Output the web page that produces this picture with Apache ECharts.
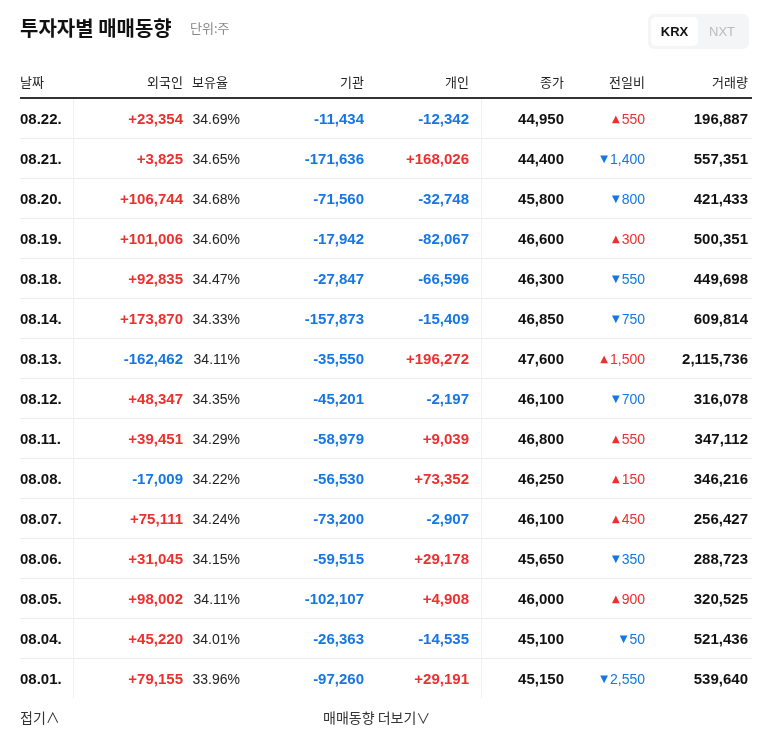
<!DOCTYPE html>
<html><head><meta charset="utf-8">
<script src="https://cdn.jsdelivr.net/npm/echarts@6/dist/echarts.min.js"></script>
<style>html,body{margin:0;padding:0;background:#fff}#c{width:768px;height:749px}</style>
</head><body><div id="c"></div>
<script>
const dates = ['08.22.','08.21.','08.20.','08.19.','08.18.','08.14.','08.13.','08.12.','08.11.','08.08.','08.07.','08.06.','08.05.','08.04.','08.01.'];
const foreign = [23354,3825,106744,101006,92835,173870,-162462,48347,39451,-17009,75111,31045,98002,45220,79155];
const ratio = [34.69,34.65,34.68,34.60,34.47,34.33,34.11,34.35,34.29,34.22,34.24,34.15,34.11,34.01,33.96];
const inst = [-11434,-171636,-71560,-17942,-27847,-157873,-35550,-45201,-58979,-56530,-73200,-59515,-102107,-26363,-97260];
const indiv = [-12342,168026,-32748,-82067,-66596,-15409,196272,-2197,9039,73352,-2907,29178,4908,-14535,29191];
const closePrice = [44950,44400,45800,46600,46300,46850,47600,46100,46800,46250,46100,45650,46000,45100,45150];
const change = [550,-1400,-800,300,-550,-750,1500,-700,550,150,450,-350,900,-50,-2550];
const volume = [196887,557351,421433,500351,449698,609814,2115736,316078,347112,346216,256427,288723,320525,521436,539640];
const headers = ['날짜','외국인','보유율','기관','개인','종가','전일비','거래량'];

// layout anchors (px) for each column
const colX = [20,183,240,364,469,564,645,748];
const colAlign = ['left','right','right','right','right','right','right','right'];
const RED='#ee2f2f', BLUE='#1577e6', DARK='#111';
const FONT='"Liberation Sans", Arial, "Noto Sans CJK KR", sans-serif';
const fmt = v => Math.abs(v).toLocaleString('en-US');
const signed = v => (v>0?'+':'-')+fmt(v);

const cols = [
  {d:dates, f:v=>'{d|'+v+'}'},
  {d:foreign, f:v=>(v>0?'{r|':'{b|')+signed(v)+'}'},
  {d:ratio, f:v=>'{p|'+v.toFixed(2)+'%}'},
  {d:inst, f:v=>(v>0?'{r|':'{b|')+signed(v)+'}'},
  {d:indiv, f:v=>(v>0?'{r|':'{b|')+signed(v)+'}'},
  {d:closePrice, f:v=>'{d|'+fmt(v)+'}'},
  {d:change, f:v=>v>0?'{tr|▲}{cr|'+fmt(v)+'}':'{tb|▼}{cb|'+fmt(v)+'}'},
  {d:volume, f:v=>'{d|'+fmt(v)+'}'}
];
const rich = {
  d:{fontFamily:FONT,fontSize:15,fontWeight:'bold',color:DARK},
  r:{fontFamily:FONT,fontSize:15,fontWeight:'bold',color:RED},
  b:{fontFamily:FONT,fontSize:15,fontWeight:'bold',color:BLUE},
  p:{fontFamily:FONT,fontSize:14,color:'#222'},
  cr:{fontFamily:FONT,fontSize:14,color:RED},
  cb:{fontFamily:FONT,fontSize:14,color:BLUE},
  tr:{fontFamily:'DejaVu Sans',fontSize:10,color:RED,padding:[0,2,1,0]},
  tb:{fontFamily:'DejaVu Sans',fontSize:10,color:BLUE,padding:[0,2,1,0]}
};
const series = cols.map((c,ci)=>({
  type:'scatter', symbolSize:0, silent:true,
  itemStyle:{opacity:1},
  data:c.d.map((v,i)=>[colX[ci], dates[i], v]),
  label:{show:true, position:'inside', offset:[0,2], align:colAlign[ci], verticalAlign:'middle', rich,
    opacity:1, textBorderWidth:0, formatter:p=>c.f(p.value[2])},
  markLine: ci===0 ? {silent:true, symbol:'none', label:{show:false},
    lineStyle:{color:'#f0f0f0',type:'solid',width:1,opacity:1},
    data:[{xAxis:73},{xAxis:481}]} : undefined
}));

const graphic = [
  {type:'text',left:20,top:18,style:{text:'투자자별 매매동향',font:'bold 20px "Noto Sans CJK KR"',fill:'#111'}},
  {type:'text',left:190,top:22,style:{text:'단위:주',font:'13px "Noto Sans CJK KR"',fill:'#888'}},
  {type:'rect',shape:{x:648,y:14,width:101,height:35,r:6},style:{fill:'#f4f5f7'}},
  {type:'rect',shape:{x:651,y:17,width:47,height:29,r:5},style:{fill:'#fff'}},
  {type:'text',x:674.5,y:32,style:{text:'KRX',font:'bold 13px '+FONT,fill:'#111',align:'center',verticalAlign:'middle'}},
  {type:'text',x:722,y:32,style:{text:'NXT',font:'13px '+FONT,fill:'#bbb',align:'center',verticalAlign:'middle'}},
  {type:'line',shape:{x1:20,y1:98,x2:752,y2:98},style:{stroke:'#333',lineWidth:2},z:10},
  {type:'text',left:20,top:711,style:{text:'접기∧',font:'14px "Noto Sans CJK KR"',fill:'#333'}},
  {type:'text',left:323,top:711,style:{text:'매매동향 더보기∨',font:'14px "Noto Sans CJK KR"',fill:'#333'}}
].concat(headers.map((h,i)=>({type:'text',x:colX[i]+(i===2?-48:0),y:82,
  style:{text:h,font:'13px "Noto Sans CJK KR"',fill:'#222',align:i===2?'left':colAlign[i],verticalAlign:'middle'}})));

const splitColors = ['rgba(0,0,0,0)'].concat(Array(14).fill('#ececec')).concat(['rgba(0,0,0,0)']);
const chart = echarts.init(document.getElementById('c'));
chart.setOption({
  animation:false,
  grid:{left:20,right:16,top:98,height:600},
  xAxis:{type:'value',min:20,max:752,show:false},
  yAxis:{type:'category',data:dates,inverse:true,axisLine:{show:false},axisTick:{show:false},axisLabel:{show:false},
    splitLine:{show:true,lineStyle:{color:splitColors}}},
  series, graphic
});
</script></body></html>
